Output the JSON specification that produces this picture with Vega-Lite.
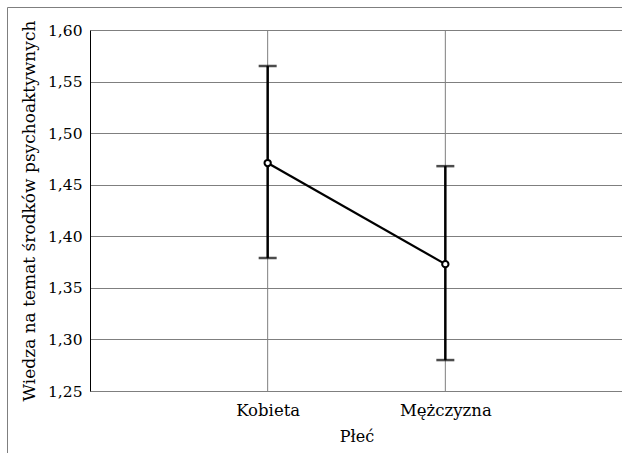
{
  "$schema": "https://vega.github.io/schema/vega-lite/v6.json",
  "width": 617,
  "height": 448,
  "padding": {"left": 7, "top": 7, "right": -2, "bottom": -2},
  "autosize": {"type": "none"},
  "background": "white",
  "config": {
    "locale": {"number": {"decimal": ",", "thousands": " ", "grouping": [3], "currency": ["", " zł"]}},
    "font": "DejaVu Serif",
    "view": {"stroke": "#7f7f7f", "strokeWidth": 1},
    "axis": {
      "labelFont": "DejaVu Serif",
      "titleFont": "DejaVu Serif",
      "labelFontSize": 15.5,
      "titleFontSize": 15.5,
      "titleFontWeight": "normal",
      "labelColor": "#000000",
      "titleColor": "#000000",
      "gridColor": "#7f7f7f",
      "gridOpacity": 1,
      "gridWidth": 1,
      "ticks": false
    }
  },
  "data": {
    "values": [
      {"plec": "Kobieta", "mean": 1.471, "lower": 1.379, "upper": 1.565},
      {"plec": "Mężczyzna", "mean": 1.373, "lower": 1.280, "upper": 1.468}
    ]
  },
  "encoding": {
    "x": {
      "field": "plec",
      "type": "ordinal",
      "sort": ["Kobieta", "Mężczyzna"],
      "title": "Płeć",
      "scale": {"type": "point", "padding": 1, "range": [83, 616]},
      "axis": {
        "offset": -64,
        "labelAngle": 0,
        "labelPadding": 11,
        "titlePadding": 10,
        "labelFontSize": 16.5,
        "titleFontSize": 16,
        "grid": false,
        "domainColor": "#7f7f7f"
      }
    }
  },
  "layer": [
    {
      "mark": {"type": "rule", "color": "#7f7f7f", "strokeWidth": 1},
      "encoding": {
        "y": {"datum": 1.25, "type": "quantitative"},
        "y2": {"datum": 1.6}
      }
    },
    {
      "mark": {"type": "rule", "color": "#000000", "strokeWidth": 2.5},
      "encoding": {
        "y": {
          "field": "lower",
          "type": "quantitative",
          "title": "Wiedza na temat środków psychoaktywnych",
          "scale": {"domain": [1.25, 1.6], "nice": false, "zero": false, "range": [384, 23]},
          "axis": {
            "offset": -83,
            "values": [1.25, 1.3, 1.35, 1.4, 1.45, 1.5, 1.55, 1.6],
            "format": ".2f",
            "labelPadding": 8,
            "titlePadding": 9,
            "titleFontSize": 17,
            "domainColor": "#000000",
            "grid": true
          }
        },
        "y2": {"field": "upper"}
      }
    },
    {
      "mark": {"type": "tick", "orient": "horizontal", "color": "#000000", "size": 18, "thickness": 2.5},
      "encoding": {"y": {"field": "lower", "type": "quantitative"}}
    },
    {
      "mark": {"type": "tick", "orient": "horizontal", "color": "#000000", "size": 18, "thickness": 2.5},
      "encoding": {"y": {"field": "upper", "type": "quantitative"}}
    },
    {
      "mark": {"type": "line", "color": "#000000", "strokeWidth": 2.2},
      "encoding": {"y": {"field": "mean", "type": "quantitative"}}
    },
    {
      "mark": {"type": "point", "filled": false, "fill": "white", "fillOpacity": 1, "stroke": "#000000", "strokeWidth": 2, "size": 40, "opacity": 1},
      "encoding": {"y": {"field": "mean", "type": "quantitative"}}
    }
  ]
}
